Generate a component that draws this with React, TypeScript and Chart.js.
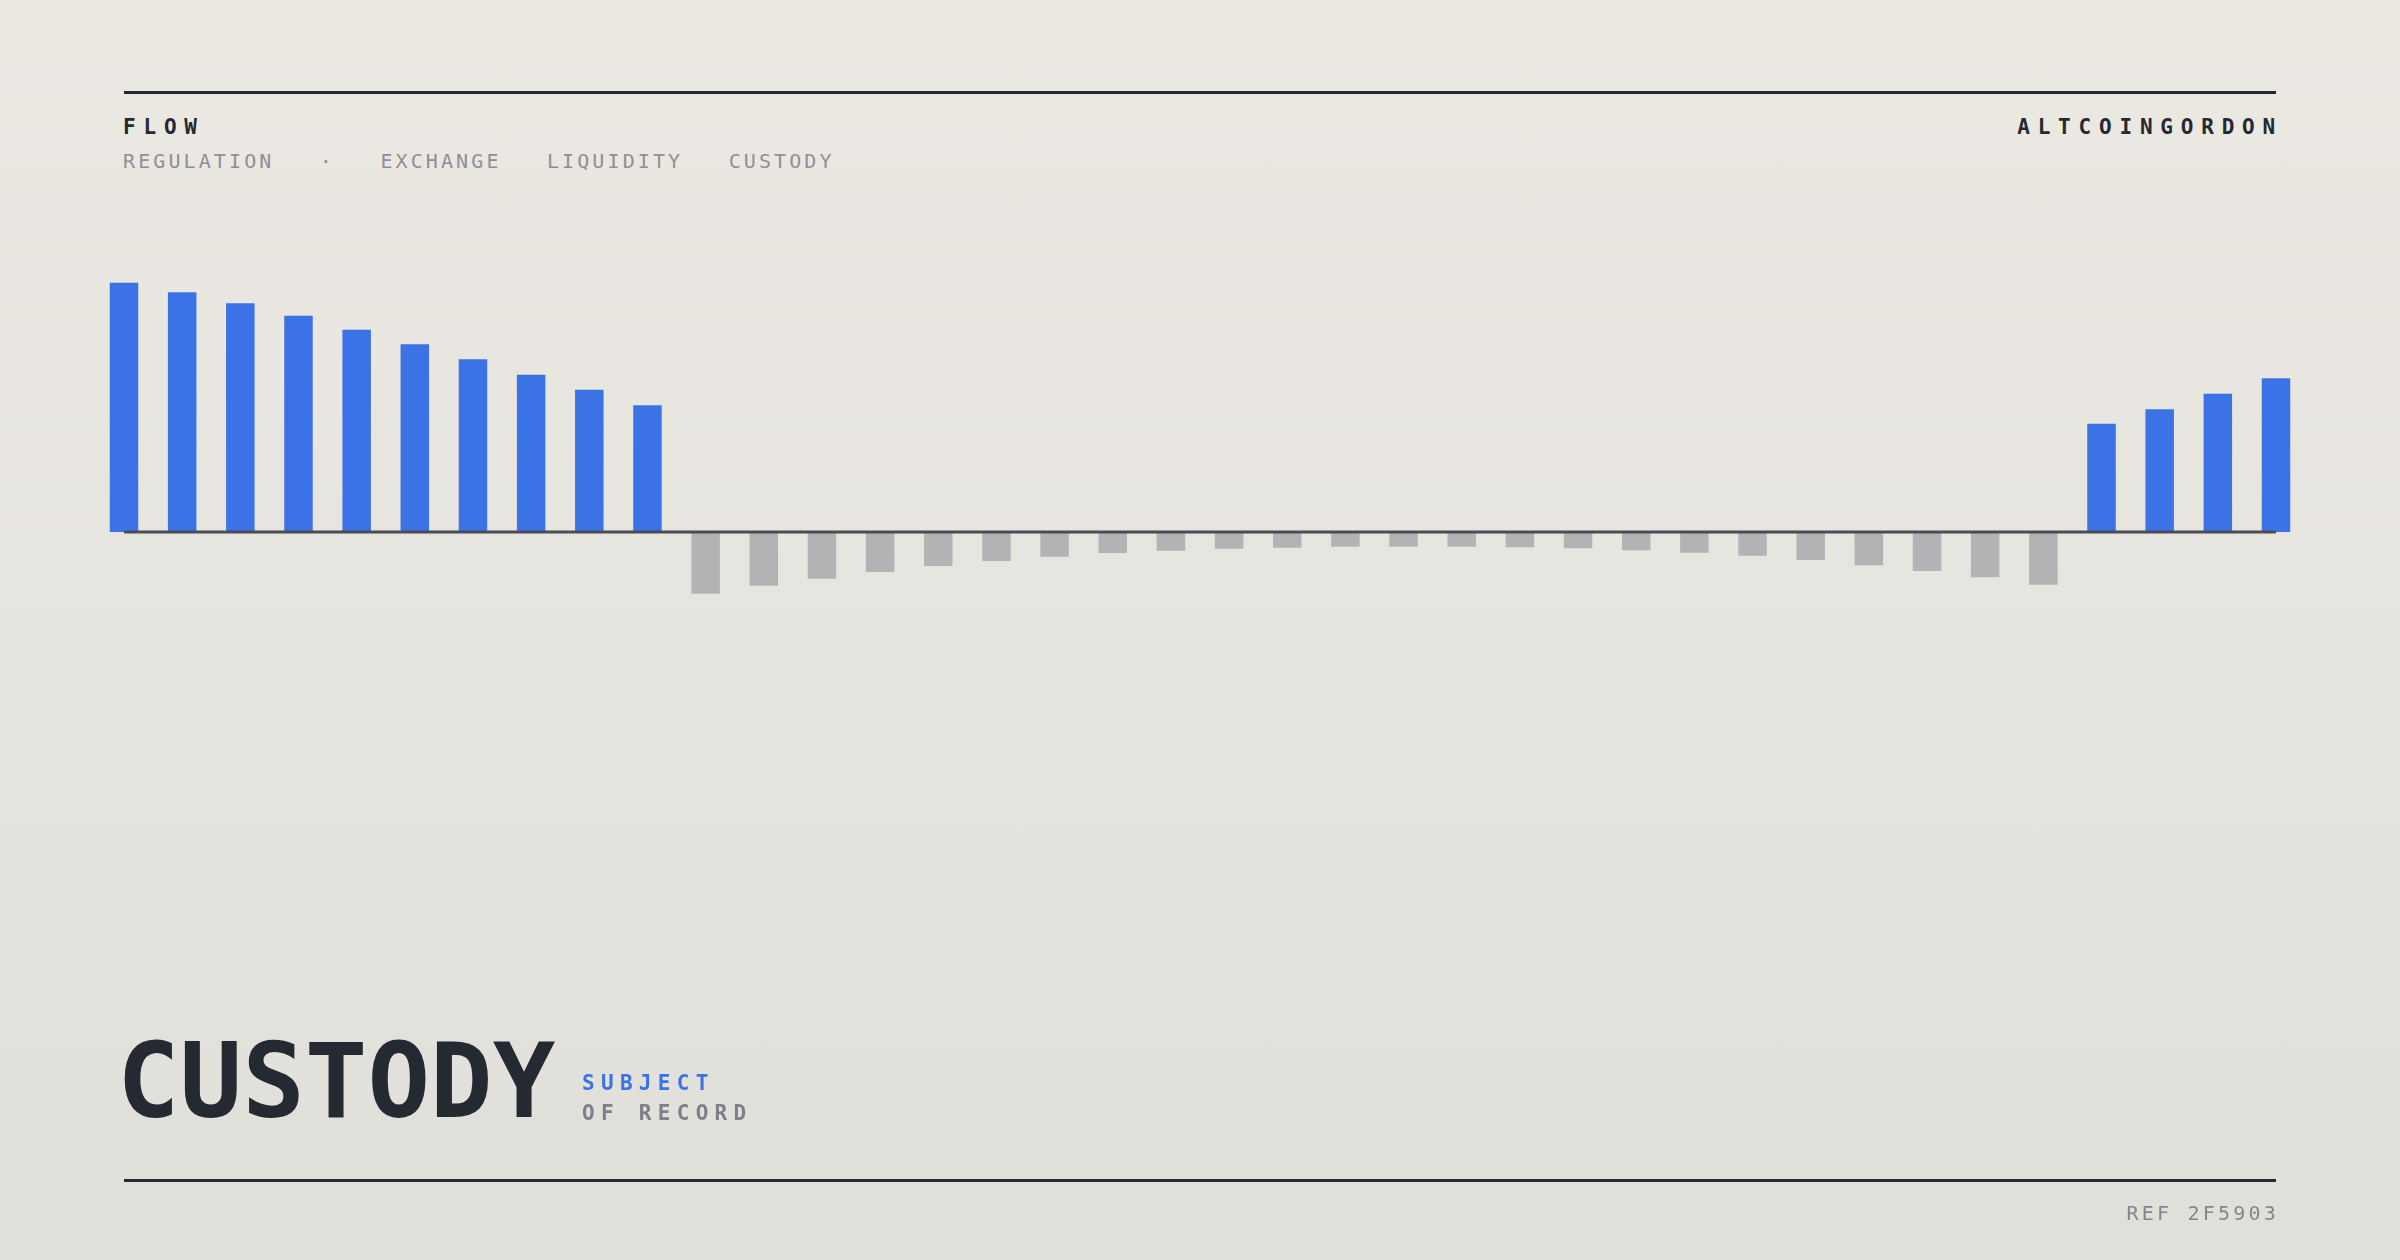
import React, { useEffect, useRef } from "react";
import { Chart, registerables } from "chart.js";

Chart.register(...registerables);

// ---- data ----
const categories = [
  "01", "02", "03", "04", "05", "06", "07", "08", "09", "10",
  "11", "12", "13", "14", "15", "16", "17", "18", "19", "20",
  "21", "22", "23", "24", "25", "26", "27", "28", "29", "30",
  "31", "32", "33", "34", "35", "36", "37", "38",
];
const flowValues = [
  99.7, 95.9, 91.5, 86.5, 80.9, 75.1, 69.1, 62.9, 56.9, 50.7,
  -24.7, -21.5, -18.7, -16.0, -13.6, -11.6, -9.9, -8.4, -7.5, -6.7,
  -6.3, -5.9, -5.9, -5.9, -6.1, -6.5, -7.3, -8.3, -9.5, -11.2,
  -13.3, -15.6, -18.1, -21.1,
  43.3, 49.1, 55.3, 61.5,
];
const yMin = -40;
const yMax = 100;

const headerLeft = "FLOW";
const headerRight = "ALTCOINGORDON";
const subtitleTags = ["REGULATION", "·", "EXCHANGE", "LIQUIDITY", "CUSTODY"];
const bigTitle = "CUSTODY";
const tagLine1 = "SUBJECT";
const tagLine2 = "OF RECORD";
const refText = "REF 2F5903";

const BLUE = "#3b73e6";
const GRAY = "#b2b3b5";
const INK = "#252932";
const MONO = '"DejaVu Sans Mono", "Liberation Mono", monospace';

export default function App() {
  const canvasRef = useRef<HTMLCanvasElement | null>(null);

  useEffect(() => {
    const canvas = canvasRef.current;
    if (!canvas) return;
    const baselinePlugin = {
      id: "baseline",
      afterDatasetsDraw(chart: any) {
        const { ctx, chartArea, scales } = chart;
        const y = scales.y.getPixelForValue(0);
        ctx.save();
        ctx.strokeStyle = "#4a4d56";
        ctx.lineWidth = 3;
        ctx.beginPath();
        ctx.moveTo(chartArea.left, y);
        ctx.lineTo(chartArea.right, y);
        ctx.stroke();
        ctx.restore();
      },
    };
    const chart = new Chart(canvas, {
      type: "bar",
      data: {
        labels: categories,
        datasets: [
          {
            data: flowValues,
            backgroundColor: (c: any) => (c.raw >= 0 ? BLUE : GRAY),
            borderWidth: 0,
            barPercentage: 0.49,
            categoryPercentage: 1.0,
            clip: false as any,
          },
        ],
      },
      options: {
        responsive: false,
        animation: false,
        devicePixelRatio: 1,
        layout: { padding: { left: 124, right: 124, top: 282, bottom: 628 } },
        plugins: { legend: { display: false }, tooltip: { enabled: false } },
        scales: {
          x: { type: "category", offset: false, display: false, grid: { display: false } },
          y: { min: yMin, max: yMax, display: false, grid: { display: false } },
        },
      },
      plugins: [baselinePlugin],
    });
    return () => chart.destroy();
  }, []);

  const abs = (s: React.CSSProperties): React.CSSProperties => ({
    position: "absolute",
    margin: 0,
    whiteSpace: "pre",
    fontFamily: MONO,
    ...s,
  });

  return (
    <div
      style={{
        position: "fixed",
        left: 0,
        top: 0,
        width: 2400,
        height: 1260,
        overflow: "hidden",
        background: "linear-gradient(180deg, #ebe9e2 0%, #e0dfd9 100%)",
      }}
    >
      {/* top rule */}
      <div style={{ position: "absolute", left: 124, top: 91, width: 2152, height: 3, background: INK }} />
      {/* bottom rule */}
      <div style={{ position: "absolute", left: 124, top: 1179, width: 2152, height: 3, background: INK }} />

      <div style={abs({ left: 123, top: 117, fontSize: 21, lineHeight: "21px", fontWeight: 700, letterSpacing: 7.8, color: INK })}>
        {headerLeft}
      </div>
      <div style={abs({ right: 117, top: 117, fontSize: 21, lineHeight: "21px", fontWeight: 700, letterSpacing: 7.8, color: INK, textAlign: "right" })}>
        {headerRight}
      </div>
      <div style={abs({ left: 123, top: 151, fontSize: 20, lineHeight: "20px", letterSpacing: 3.1, color: "#8e9096" })}>
        {subtitleTags.join("   ")}
      </div>

      <canvas
        ref={canvasRef}
        width={2400}
        height={1260}
        style={{ position: "absolute", left: 0, top: 0, width: 2400, height: 1260 }}
      />

      <div style={abs({ left: 117, top: 1029, fontSize: 104, lineHeight: "104px", fontWeight: 700, color: INK, letterSpacing: 0 })}>
        {bigTitle}
      </div>
      <div style={abs({ left: 582, top: 1073, fontSize: 21, lineHeight: "21px", fontWeight: 700, letterSpacing: 6.3, color: BLUE })}>
        {tagLine1}
      </div>
      <div style={abs({ left: 582, top: 1103, fontSize: 21, lineHeight: "21px", fontWeight: 700, letterSpacing: 6.3, color: "#7e8089" })}>
        {tagLine2}
      </div>
      <div style={abs({ right: 121, top: 1203, fontSize: 20, lineHeight: "20px", letterSpacing: 3.2, color: "#85878f", textAlign: "right" })}>
        {refText}
      </div>
    </div>
  );
}
